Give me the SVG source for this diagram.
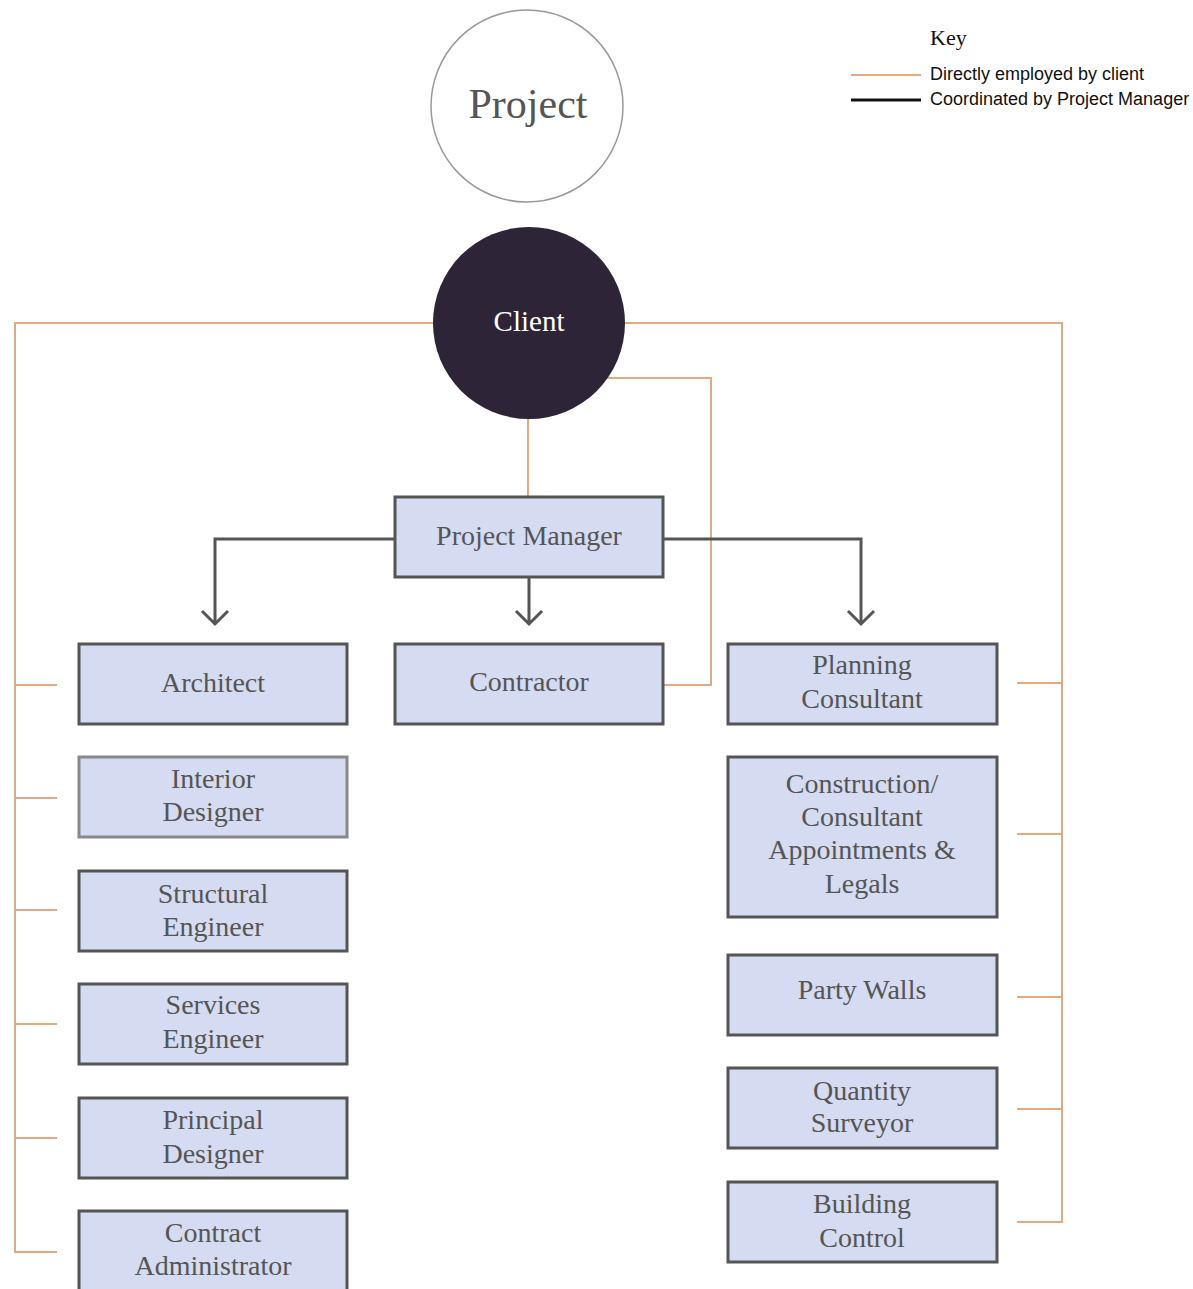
<svg xmlns="http://www.w3.org/2000/svg" width="1193" height="1289" viewBox="0 0 1193 1289">
<style>
.box{fill:#d5dbf0;stroke:#555;stroke-width:3}
.lbl{font-family:"Liberation Serif",serif;font-size:28px;fill:#555;text-anchor:middle}
.or{fill:none;stroke:#e2aa84;stroke-width:2}
.bk{fill:none;stroke:#555;stroke-width:3}
.key{font-family:"Liberation Sans",sans-serif;font-size:18px;fill:#111}
</style>
<rect width="1193" height="1289" fill="#fff"/>
<g id="connectors">
  <path class="or" d="M433 323H15V1252H57M15 685H57M15 798H57M15 910H57M15 1024H57M15 1138H57"/>
  <path class="or" d="M625 323H1062V1222H1017M1017 683H1062M1017 834H1062M1017 997H1062M1017 1109H1062"/>
  <path class="or" d="M606 378H711V685H664"/>
  <path class="or" d="M528 419V497"/>
  <path class="bk" d="M395 539H215V624M202 611L215 624L228 611"/>
  <path class="bk" d="M663 539H861V624M848 611L861 624L874 611"/>
  <path class="bk" d="M529 577V624M516 611L529 624L542 611"/>
</g>
<g id="key">
  <text x="930" y="45" font-family="Liberation Serif,serif" font-size="22" fill="#111">Key</text>
  <line x1="851" y1="75" x2="921" y2="75" stroke="#e2aa84" stroke-width="2"/>
  <line x1="851" y1="100" x2="921" y2="100" stroke="#111" stroke-width="3"/>
  <text class="key" x="930" y="80">Directly employed by client</text>
  <text class="key" x="930" y="105">Coordinated by Project Manager</text>
</g>
<g id="project">
  <circle cx="527" cy="106" r="96" fill="#fff" stroke="#999" stroke-width="1.5"/>
  <text x="528" y="118" font-family="Liberation Serif,serif" font-size="42" fill="#555" text-anchor="middle">Project</text>
</g>
<g id="client">
  <circle cx="529" cy="323" r="96" fill="#2e2438"/>
  <text x="529" y="331" font-family="Liberation Serif,serif" font-size="29" fill="#fff" text-anchor="middle">Client</text>
</g>
<g id="project-manager"><rect class="box" x="395" y="497" width="268" height="80"/><text class="lbl" x="529" y="545">Project Manager</text></g>
<g id="architect"><rect class="box" x="79" y="644" width="268" height="80"/><text class="lbl" x="213" y="692">Architect</text></g>
<g id="interior-designer"><rect class="box" x="79" y="757" width="268" height="80" style="stroke:#888"/><text class="lbl" x="213" y="788">Interior</text><text class="lbl" x="213" y="821">Designer</text></g>
<g id="structural-engineer"><rect class="box" x="79" y="871" width="268" height="80"/><text class="lbl" x="213" y="903">Structural</text><text class="lbl" x="213" y="936">Engineer</text></g>
<g id="services-engineer"><rect class="box" x="79" y="984" width="268" height="80"/><text class="lbl" x="213" y="1014">Services</text><text class="lbl" x="213" y="1048">Engineer</text></g>
<g id="principal-designer"><rect class="box" x="79" y="1098" width="268" height="80"/><text class="lbl" x="213" y="1129">Principal</text><text class="lbl" x="213" y="1163">Designer</text></g>
<g id="contract-administrator"><rect class="box" x="79" y="1211" width="268" height="90"/><text class="lbl" x="213" y="1242">Contract</text><text class="lbl" x="213" y="1275">Administrator</text></g>
<g id="contractor"><rect class="box" x="395" y="644" width="268" height="80"/><text class="lbl" x="529" y="691">Contractor</text></g>
<g id="planning-consultant"><rect class="box" x="728" y="644" width="269" height="80"/><text class="lbl" x="862" y="674">Planning</text><text class="lbl" x="862" y="708">Consultant</text></g>
<g id="appointments"><rect class="box" x="728" y="757" width="269" height="160"/><text class="lbl" x="862" y="793">Construction/</text><text class="lbl" x="862" y="826">Consultant</text><text class="lbl" x="862" y="859">Appointments &amp;</text><text class="lbl" x="862" y="893">Legals</text></g>
<g id="party-walls"><rect class="box" x="728" y="955" width="269" height="80"/><text class="lbl" x="862" y="999">Party Walls</text></g>
<g id="quantity-surveyor"><rect class="box" x="728" y="1068" width="269" height="80"/><text class="lbl" x="862" y="1100">Quantity</text><text class="lbl" x="862" y="1132">Surveyor</text></g>
<g id="building-control"><rect class="box" x="728" y="1182" width="269" height="80"/><text class="lbl" x="862" y="1213">Building</text><text class="lbl" x="862" y="1247">Control</text></g>
</svg>
